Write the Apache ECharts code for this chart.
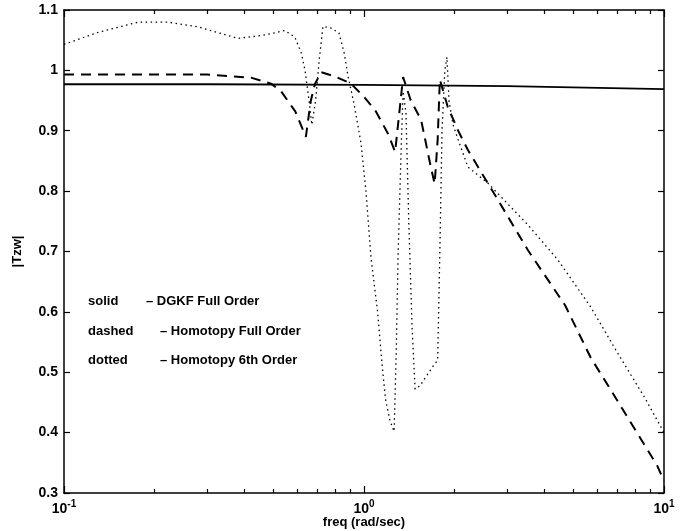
<!DOCTYPE html>
<html>
<head>
<meta charset="utf-8">
<script src="https://cdn.jsdelivr.net/npm/echarts@6/dist/echarts.min.js"></script>
<style>
html,body{margin:0;padding:0;background:#fff;}
#c{width:680px;height:531px;}
</style>
</head>
<body>
<div id="c"></div>
<script>
// ---- data ----
const xMajorTicks = [0.1, 1, 10];
const xMinorTicks = [0.2, 0.3, 0.4, 0.5, 0.6, 0.7, 0.8, 0.9, 2, 3, 4, 5, 6, 7, 8, 9];
const xTickLabels = {"0.1": ["10", "-1"], "1": ["10", "0"], "10": ["10", "1"]};
const xAxisTitle = "freq (rad/sec)";
const yAxisTitle = "|Tzw|";
const legendNames = ["solid", "dashed", "dotted"];
const legendDescs = ["\u2013 DGKF Full Order", "\u2013 Homotopy Full Order", "\u2013 Homotopy 6th Order"];

const solidX = [0.1, 0.3, 1, 3, 10];
const solidY = [0.977, 0.977, 0.976, 0.974, 0.969];

const dashedX = [0.1, 0.3, 0.42, 0.49, 0.53, 0.59, 0.64, 0.665, 0.687, 0.72, 0.8, 0.905, 1.0, 1.09, 1.2, 1.27, 1.35, 1.43, 1.55, 1.67, 1.72, 1.76, 1.79, 1.9, 2.06, 2.22, 2.4, 2.73, 3.52, 4.68, 5.7, 6.66, 9.5, 10];
const dashedY = [0.993, 0.993, 0.988, 0.978, 0.965, 0.932, 0.89, 0.95, 0.978, 0.997, 0.99, 0.978, 0.956, 0.934, 0.896, 0.865, 0.989, 0.951, 0.918, 0.84, 0.812, 0.885, 0.985, 0.94, 0.9, 0.868, 0.84, 0.794, 0.702, 0.611, 0.524, 0.47, 0.345, 0.32];

const dottedX = [0.1, 0.13, 0.177, 0.222, 0.28, 0.38, 0.46, 0.545, 0.588, 0.617, 0.636, 0.656, 0.67, 0.69, 0.71, 0.73, 0.776, 0.825, 0.858, 0.885, 0.926, 0.977, 1.015, 1.055, 1.11, 1.15, 1.18, 1.22, 1.26, 1.28, 1.3, 1.33, 1.35, 1.38, 1.41, 1.445, 1.48, 1.54, 1.61, 1.7, 1.76, 1.79, 1.82, 1.86, 1.89, 1.92, 1.98, 2.06, 2.22, 2.59, 3.52, 4.43, 5.7, 7.0, 8.6, 10];
const dottedY = [1.043, 1.063, 1.08, 1.08, 1.072, 1.053, 1.058, 1.066, 1.055, 1.03, 1.0, 0.95, 0.91, 0.95, 1.02, 1.073, 1.07, 1.062, 1.03, 0.99, 0.945, 0.88, 0.8, 0.69, 0.6, 0.51, 0.455, 0.42, 0.402, 0.53, 0.7, 0.87, 0.965, 0.93, 0.75, 0.58, 0.472, 0.478, 0.493, 0.51, 0.52, 0.7, 0.9, 1.0, 1.022, 0.95, 0.91, 0.885, 0.84, 0.813, 0.744, 0.686, 0.608, 0.532, 0.459, 0.40];

function zip(xs, ys) { return xs.map((x, i) => [x, ys[i]]); }

const chart = echarts.init(document.getElementById('c'), null, {renderer: 'canvas'});
const FONT = 'Liberation Sans, Arial, Helvetica, sans-serif';
const axisLine = {show: true, onZero: false, lineStyle: {color: '#000', width: 1.5}};

function xAxisDef(pos, ticks, len, withLabels) {
  const a = {
    type: 'log', logBase: 10, min: 0.1, max: 10, position: pos,
    axisLine: withLabels !== null ? axisLine : {show: false},
    axisTick: {show: true, inside: true, length: len, customValues: ticks,
               lineStyle: {color: '#000', width: 1.2}},
    axisLabel: {show: false},
    splitLine: {show: false}
  };
  if (withLabels) {
    a.axisLabel = {
      show: true, color: '#000', margin: 6, fontFamily: FONT, customValues: xMajorTicks,
      formatter: function (v) {
        const k = String(+(+v).toPrecision(3));
        const p = xTickLabels[k];
        return p ? '{b|' + p[0] + '}{s|' + p[1] + '}' : '';
      },
      rich: {
        b: {fontSize: 14, fontWeight: 'bold', fontFamily: FONT, color: '#000'},
        s: {fontSize: 10, fontWeight: 'bold', fontFamily: FONT, color: '#000', verticalAlign: 'bottom', padding: [0, 0, 10, 0]}
      }
    };
  }
  return a;
}

const yCommon = {
  type: 'value', min: 0.3, max: 1.1, interval: 0.1,
  axisLine: axisLine,
  axisTick: {show: true, inside: true, length: 6, lineStyle: {color: '#000', width: 1.2}},
  splitLine: {show: false}
};

const graphics = [];
legendNames.forEach((n, i) => {
  graphics.push({type: 'text', left: 88, top: 295 + i * 29.5,
    style: {text: n, fill: '#000', font: 'bold 13px ' + FONT}});
  graphics.push({type: 'text', left: i === 0 ? 146 : 160, top: 295 + i * 29.5,
    style: {text: legendDescs[i], fill: '#000', font: 'bold 13px ' + FONT}});
});
graphics.push({type: 'text', x: 364, y: 522,
  style: {text: xAxisTitle, fill: '#000', font: 'bold 13px ' + FONT, align: 'center', verticalAlign: 'middle'}});

chart.setOption({
  backgroundColor: '#fff',
  animation: false,
  grid: {left: 64, right: 16, top: 10, bottom: 38, containLabel: false, outerBoundsMode: 'none'},
  xAxis: [
    xAxisDef('bottom', xMajorTicks, 7, true),
    xAxisDef('bottom', xMinorTicks, 4, null),
    xAxisDef('top', xMajorTicks, 7, false),
    xAxisDef('top', xMinorTicks, 4, null)
  ],
  yAxis: [
    Object.assign({}, yCommon, {
      position: 'left',
      name: yAxisTitle, nameLocation: 'middle', nameGap: 40, nameRotate: 90,
      nameTextStyle: {color: '#000', fontFamily: FONT, fontSize: 13, fontWeight: 'bold'},
      axisLabel: {
        color: '#000', fontFamily: FONT, fontSize: 14, fontWeight: 'bold', margin: 6,
        formatter: function (v) { return String(parseFloat((+v).toFixed(1))); }
      }
    }),
    Object.assign({}, yCommon, {position: 'right', axisLabel: {show: false}})
  ],
  series: [
    {name: 'solid', type: 'line', data: zip(solidX, solidY), showSymbol: false, symbol: 'none',
     lineStyle: {color: '#000', width: 1.8, type: 'solid'}},
    {name: 'dashed', type: 'line', data: zip(dashedX, dashedY), showSymbol: false, symbol: 'none',
     lineStyle: {color: '#000', width: 2, type: [10, 7]}},
    {name: 'dotted', type: 'line', data: zip(dottedX, dottedY), showSymbol: false, symbol: 'none',
     lineStyle: {color: '#000', width: 1.3, type: [1.5, 3.5]}}
  ],
  graphic: graphics
});
</script>
</body>
</html>
